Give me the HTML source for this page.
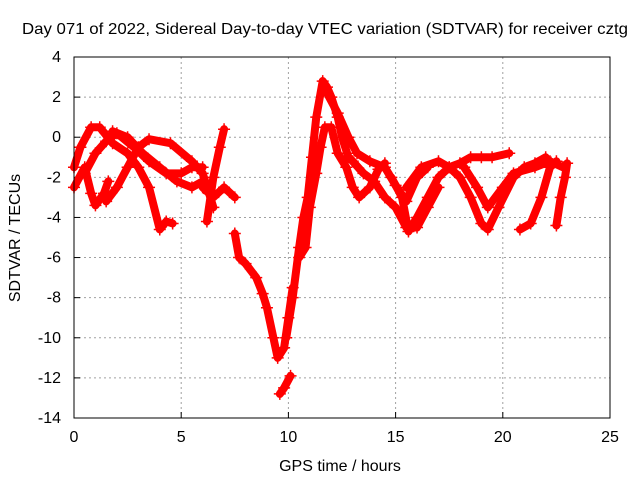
<!DOCTYPE html>
<html><head><meta charset="utf-8"><style>
body{margin:0;background:#fff}
svg text{font-family:"Liberation Sans",sans-serif;font-size:16px;fill:#000}
</style></head><body>
<svg id="chart" width="640" height="480" xmlns="http://www.w3.org/2000/svg">
<rect width="640" height="480" fill="#fff"/>
<text x="325" y="34" text-anchor="middle" textLength="606" lengthAdjust="spacingAndGlyphs">Day 071 of 2022, Sidereal Day-to-day VTEC variation (SDTVAR) for receiver cztg</text>
<text x="340" y="471" text-anchor="middle">GPS time / hours</text>
<text transform="translate(20,238) rotate(-90)" text-anchor="middle">SDTVAR / TECUs</text>
<g id="grid"></g>
<g id="ticks"></g>
<g id="series"></g>
<rect x="74" y="57" width="536" height="361" fill="none" stroke="#000" stroke-width="1"/>
</svg>
<script>
const xTicks=[0,5,10,15,20,25];
const yTicks=[4,2,0,-2,-4,-6,-8,-10,-12,-14];
const arcA=[[0,-1.5],[0.3,-0.5],[0.8,0.5],[1.2,0.5],[1.8,-0.3],[2.5,-0.8],[3,-1.5],[3.5,-2.5],[4,-4.6],[4.3,-4.2],[4.6,-4.3]];
const arcB=[[0,-2.5],[0.5,-1.5],[0.8,-2.8],[1,-3.4],[1.4,-2.8],[1.6,-2.2]];
const arcC=[[1.5,-3.2],[2,-2.5],[2.5,-1.5],[3,-0.5],[3.5,-0.1],[4.5,-0.3],[5.5,-1.2],[6,-1.8],[6.3,-2.8],[6.5,-3.5]];
const arcD=[[1.8,0.3],[2.5,0],[3.2,-0.8],[4,-1.5],[4.8,-2.2],[5.5,-2.5],[6,-2.2]];
const arcE=[[0.5,-1.8],[1,-0.8],[1.5,-0.2],[2,0.2],[2.8,-0.5],[3.5,-1.2],[4.3,-1.8],[5,-1.8],[5.5,-1.5],[6,-1.5]];
const arcF=[[6.2,-4.2],[6.5,-2],[6.8,-0.5],[7,0.4]];
const arcG=[[6,-2.5],[6.5,-3],[7,-2.5],[7.5,-3]];
const arcH=[[7.5,-4.8],[7.7,-6],[8,-6.3],[8.5,-7],[8.8,-7.8],[9,-8.5],[9.3,-10],[9.5,-11],[9.8,-10.5],[10,-9],[10.2,-7.5]];
const arcI=[[9.6,-12.8],[9.8,-12.5],[10.1,-11.9]];
const arcJ=[[9.9,-10],[10.2,-8],[10.5,-5.5],[10.7,-4],[10.9,-3],[11.1,-1],[11.3,1],[11.6,2.8],[11.8,2.5],[12,2],[12.3,1],[12.5,0],[12.8,-1],[13,-1.2],[13.5,-1.8],[14,-2.2],[14.5,-3],[15,-3.5],[15.5,-4.5],[16,-4.5],[16.5,-3.5],[17,-2.5]];
const arcK=[[10.5,-6],[10.8,-5.5],[11,-3.5],[11.3,-1.8],[11.5,-0.5],[11.7,0.5],[12,0.5],[12.3,-0.8],[12.7,-1.5],[13,-2.5],[13.3,-3],[13.8,-2.5],[14.2,-1.6],[14.5,-1.3]];
const arcL=[[11.8,2.2],[12.3,1.2],[12.8,0],[13.2,-0.8],[13.8,-1.2],[14.5,-1.5],[15,-2.4],[15.5,-3.2],[16,-2],[16.5,-1.5]];
const arcM=[[14.8,-2],[15.3,-3],[15.6,-4.7],[16,-4],[16.5,-3],[17,-2],[17.5,-1.5],[18,-1.3],[18.5,-1],[19,-1],[19.5,-1],[20.3,-0.8]];
const arcN=[[15.5,-2.5],[16.2,-1.5],[17,-1.2],[17.5,-1.5],[18,-2],[18.5,-3],[19,-4.3],[19.3,-4.6],[19.8,-3.5],[20.5,-2],[21,-1.5],[21.5,-1.3],[22,-1]];
const arcO=[[18.2,-1.5],[18.8,-2.5],[19.3,-3.5],[20,-2.5],[20.5,-1.8],[21.5,-1.5],[22.2,-1.2],[22.8,-1.5]];
const arcP=[[20.8,-4.6],[21.3,-4.3],[21.8,-3],[22.2,-1.5],[22.5,-1.2]];
const arcQ=[[22.5,-4.4],[22.7,-3],[22.9,-2],[23,-1.3]];
const arcs=[arcA,arcB,arcC,arcD,arcE,arcF,arcG,arcH,arcI,arcJ,arcK,arcL,arcM,arcN,arcO,arcP,arcQ];

const X0=74,X1=610,Y0=57,Y1=418;
const xs=v=>X0+(v-0)/(25-0)*(X1-X0);
const ys=v=>Y0+(4-v)/(4-(-14))*(Y1-Y0);
const NS='http://www.w3.org/2000/svg';
function mk(tag,attrs,parent){const e=document.createElementNS(NS,tag);for(const k in attrs)e.setAttribute(k,attrs[k]);parent.appendChild(e);return e;}
const grid=document.getElementById('grid'),ticks=document.getElementById('ticks'),series=document.getElementById('series');
xTicks.forEach(t=>{
  const x=xs(t);
  if(t>0&&t<25){const g=mk('line',{x1:x,x2:x,y1:Y0,y2:Y1,stroke:'#a0a0a0','stroke-dasharray':'2,3'},grid);
  
  }
  const tk=mk('line',{x1:x,x2:x,y1:Y1,y2:Y1-6,stroke:'#000'},ticks);
  
  
  const l=mk('text',{x:x,y:Y1+24,'text-anchor':'middle'},ticks);l.textContent=t;
  
  
});
yTicks.forEach(t=>{
  const y=ys(t);
  if(t<4&&t>-14){const g=mk('line',{x1:X0,x2:X1,y1:y,y2:y,stroke:'#a0a0a0','stroke-dasharray':'2,3'},grid);
  
  }
  const tk=mk('line',{x1:X0,x2:X0+6,y1:y,y2:y,stroke:'#000'},ticks);
  
  
  const l=mk('text',{x:X0-13,y:y+5,'text-anchor':'end'},ticks);l.textContent=t;
  
  
});
arcs.forEach(arc=>{
  const pts=arc.map(p=>xs(p[0])+','+ys(p[1])).join(' ');
  const pl=mk('polyline',{points:pts,fill:'none',stroke:'#ff0000','stroke-width':8,'stroke-linejoin':'round','stroke-linecap':'round'},series);
  
  
  arc.forEach(p=>{
    const x=xs(p[0]),y=ys(p[1]);
    const m=mk('path',{d:`M${x-6},${y}H${x+6}M${x},${y-6}V${y+6}`,stroke:'#ff0000','stroke-width':1.5},series);
    
    
  });
});
</script>
</body></html>
